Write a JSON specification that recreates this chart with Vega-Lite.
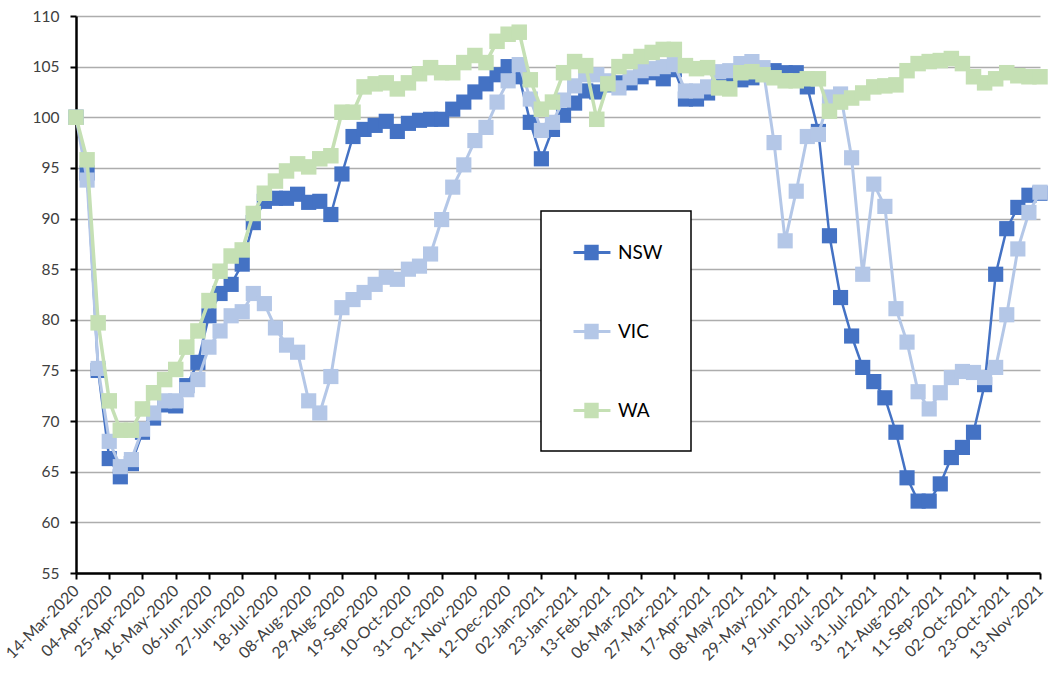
{
  "$schema": "https://vega.github.io/schema/vega-lite/v6.json",
  "width": 964,
  "height": 557,
  "autosize": {"type": "none"},
  "padding": {"left": 76, "top": 16, "right": 8, "bottom": 105},
  "background": "white",
  "config": {
    "view": {"stroke": null},
    "font": "Lato",
    "legend": {"strokeWidth": 1.5}
  },
  "data": {
    "values": [
      {"date": "2020-03-14", "NSW": 100, "VIC": 100, "WA": 100},
      {"date": "2020-03-21", "NSW": 94.5, "VIC": 93.8, "WA": 95.8},
      {"date": "2020-03-28", "NSW": 75.0, "VIC": 75.2, "WA": 79.7},
      {"date": "2020-04-04", "NSW": 66.3, "VIC": 68.0, "WA": 72.0},
      {"date": "2020-04-11", "NSW": 64.5, "VIC": 65.5, "WA": 69.1},
      {"date": "2020-04-18", "NSW": 65.8, "VIC": 66.2, "WA": 69.1},
      {"date": "2020-04-25", "NSW": 68.9, "VIC": 69.2, "WA": 71.2},
      {"date": "2020-05-02", "NSW": 70.3, "VIC": 70.8, "WA": 72.8},
      {"date": "2020-05-09", "NSW": 71.6, "VIC": 72.0, "WA": 74.1},
      {"date": "2020-05-16", "NSW": 71.5, "VIC": 72.0, "WA": 75.1},
      {"date": "2020-05-23", "NSW": 73.5, "VIC": 73.1, "WA": 77.3},
      {"date": "2020-05-30", "NSW": 75.8, "VIC": 74.1, "WA": 78.9},
      {"date": "2020-06-06", "NSW": 80.4, "VIC": 77.3, "WA": 81.9},
      {"date": "2020-06-13", "NSW": 82.6, "VIC": 78.9, "WA": 84.8},
      {"date": "2020-06-20", "NSW": 83.5, "VIC": 80.4, "WA": 86.3},
      {"date": "2020-06-27", "NSW": 85.5, "VIC": 80.8, "WA": 86.9},
      {"date": "2020-07-04", "NSW": 89.6, "VIC": 82.6, "WA": 90.5},
      {"date": "2020-07-11", "NSW": 91.7, "VIC": 81.6, "WA": 92.5},
      {"date": "2020-07-18", "NSW": 92.0, "VIC": 79.2, "WA": 93.7},
      {"date": "2020-07-25", "NSW": 92.0, "VIC": 77.5, "WA": 94.7},
      {"date": "2020-08-01", "NSW": 92.4, "VIC": 76.8, "WA": 95.4},
      {"date": "2020-08-08", "NSW": 91.6, "VIC": 72.0, "WA": 95.1},
      {"date": "2020-08-15", "NSW": 91.7, "VIC": 70.8, "WA": 95.9},
      {"date": "2020-08-22", "NSW": 90.4, "VIC": 74.4, "WA": 96.2},
      {"date": "2020-08-29", "NSW": 94.4, "VIC": 81.2, "WA": 100.5},
      {"date": "2020-09-05", "NSW": 98.1, "VIC": 82.0, "WA": 100.5},
      {"date": "2020-09-12", "NSW": 98.8, "VIC": 82.7, "WA": 103.0},
      {"date": "2020-09-19", "NSW": 99.2, "VIC": 83.5, "WA": 103.3},
      {"date": "2020-09-26", "NSW": 99.6, "VIC": 84.2, "WA": 103.4},
      {"date": "2020-10-03", "NSW": 98.6, "VIC": 84.0, "WA": 102.8},
      {"date": "2020-10-10", "NSW": 99.4, "VIC": 85.0, "WA": 103.4},
      {"date": "2020-10-17", "NSW": 99.7, "VIC": 85.3, "WA": 104.3},
      {"date": "2020-10-24", "NSW": 99.8, "VIC": 86.5, "WA": 104.9},
      {"date": "2020-10-31", "NSW": 99.8, "VIC": 89.9, "WA": 104.4},
      {"date": "2020-11-07", "NSW": 100.8, "VIC": 93.1, "WA": 104.4},
      {"date": "2020-11-14", "NSW": 101.5, "VIC": 95.3, "WA": 105.4},
      {"date": "2020-11-21", "NSW": 102.5, "VIC": 97.7, "WA": 106.1},
      {"date": "2020-11-28", "NSW": 103.3, "VIC": 99.0, "WA": 105.4},
      {"date": "2020-12-05", "NSW": 104.2, "VIC": 101.5, "WA": 107.5},
      {"date": "2020-12-12", "NSW": 105.0, "VIC": 103.6, "WA": 108.2},
      {"date": "2020-12-19", "NSW": 104.0, "VIC": 105.2, "WA": 108.4},
      {"date": "2020-12-26", "NSW": 99.5, "VIC": 101.8, "WA": 103.7},
      {"date": "2021-01-02", "NSW": 95.9, "VIC": 98.7, "WA": 100.8},
      {"date": "2021-01-09", "NSW": 98.8, "VIC": 99.5, "WA": 101.5},
      {"date": "2021-01-16", "NSW": 100.2, "VIC": 101.7, "WA": 104.4},
      {"date": "2021-01-23", "NSW": 101.4, "VIC": 103.1, "WA": 105.5},
      {"date": "2021-01-30", "NSW": 102.6, "VIC": 104.2, "WA": 105.1},
      {"date": "2021-02-06", "NSW": 102.5, "VIC": 104.2, "WA": 99.8},
      {"date": "2021-02-13", "NSW": 103.2, "VIC": 103.6, "WA": 103.3},
      {"date": "2021-02-20", "NSW": 103.4, "VIC": 102.9, "WA": 105.0},
      {"date": "2021-02-27", "NSW": 103.4, "VIC": 103.9, "WA": 105.5},
      {"date": "2021-03-06", "NSW": 104.0, "VIC": 104.6, "WA": 106.0},
      {"date": "2021-03-13", "NSW": 104.4, "VIC": 104.8, "WA": 106.4},
      {"date": "2021-03-20", "NSW": 103.8, "VIC": 105.0, "WA": 106.7},
      {"date": "2021-03-27", "NSW": 104.7, "VIC": 105.2, "WA": 106.7},
      {"date": "2021-04-03", "NSW": 101.8, "VIC": 102.6, "WA": 105.1},
      {"date": "2021-04-10", "NSW": 101.8, "VIC": 102.6, "WA": 104.8},
      {"date": "2021-04-17", "NSW": 102.4, "VIC": 103.0, "WA": 104.9},
      {"date": "2021-04-24", "NSW": 104.2, "VIC": 104.5, "WA": 102.9},
      {"date": "2021-05-01", "NSW": 104.2, "VIC": 104.6, "WA": 102.8},
      {"date": "2021-05-08", "NSW": 103.7, "VIC": 105.3, "WA": 104.4},
      {"date": "2021-05-15", "NSW": 103.9, "VIC": 105.5, "WA": 104.5},
      {"date": "2021-05-22", "NSW": 104.3, "VIC": 104.9, "WA": 104.2},
      {"date": "2021-05-29", "NSW": 104.6, "VIC": 97.5, "WA": 103.9},
      {"date": "2021-06-05", "NSW": 104.4, "VIC": 87.8, "WA": 103.6},
      {"date": "2021-06-12", "NSW": 104.4, "VIC": 92.7, "WA": 103.6},
      {"date": "2021-06-19", "NSW": 103.0, "VIC": 98.1, "WA": 103.8},
      {"date": "2021-06-26", "NSW": 98.6, "VIC": 98.3, "WA": 103.8},
      {"date": "2021-07-03", "NSW": 88.3, "VIC": 102.0, "WA": 100.6},
      {"date": "2021-07-10", "NSW": 82.2, "VIC": 102.3, "WA": 101.5},
      {"date": "2021-07-17", "NSW": 78.4, "VIC": 96.0, "WA": 101.9},
      {"date": "2021-07-24", "NSW": 75.3, "VIC": 84.5, "WA": 102.4},
      {"date": "2021-07-31", "NSW": 73.9, "VIC": 93.4, "WA": 103.0},
      {"date": "2021-08-07", "NSW": 72.3, "VIC": 91.2, "WA": 103.1},
      {"date": "2021-08-14", "NSW": 68.9, "VIC": 81.1, "WA": 103.2},
      {"date": "2021-08-21", "NSW": 64.4, "VIC": 77.8, "WA": 104.6},
      {"date": "2021-08-28", "NSW": 62.1, "VIC": 72.9, "WA": 105.3},
      {"date": "2021-09-04", "NSW": 62.1, "VIC": 71.2, "WA": 105.5},
      {"date": "2021-09-11", "NSW": 63.8, "VIC": 72.8, "WA": 105.6},
      {"date": "2021-09-18", "NSW": 66.4, "VIC": 74.3, "WA": 105.8},
      {"date": "2021-09-25", "NSW": 67.4, "VIC": 74.9, "WA": 105.3},
      {"date": "2021-10-02", "NSW": 68.9, "VIC": 74.8, "WA": 104.0},
      {"date": "2021-10-09", "NSW": 73.6, "VIC": 74.3, "WA": 103.4},
      {"date": "2021-10-16", "NSW": 84.5, "VIC": 75.3, "WA": 103.8},
      {"date": "2021-10-23", "NSW": 89.0, "VIC": 80.5, "WA": 104.4},
      {"date": "2021-10-30", "NSW": 91.1, "VIC": 87.0, "WA": 104.1},
      {"date": "2021-11-06", "NSW": 92.3, "VIC": 90.6, "WA": 104.0},
      {"date": "2021-11-13", "NSW": 92.5, "VIC": 92.6, "WA": 104.0}
    ]
  },
  "transform": [{"fold": ["NSW", "VIC", "WA"], "as": ["state", "value"]}],
  "encoding": {
    "x": {
      "field": "date",
      "type": "temporal",
      "scale": {
        "type": "utc",
        "nice": false,
        "domain": [
          {"year": 2020, "month": 3, "date": 14, "utc": true},
          {"year": 2021, "month": 11, "date": 13, "utc": true}
        ]
      },
      "axis": {
        "title": null,
        "grid": false,
        "format": "%d-%b-%Y",
        "labelAngle": -45,
        "labelAlign": "right",
        "labelBaseline": "middle",
        "labelFlush": false,
        "labelOverlap": false,
        "labelFontSize": 16,
        "labelFont": "Lato",
        "labelColor": "#404040",
        "labelPadding": 9,
        "tickSize": 6,
        "tickColor": "black",
        "tickWidth": 2,
        "domainColor": "black",
        "domainWidth": 2.5,
        "values": [
          {"year": 2020, "month": 3, "date": 14, "utc": true},
          {"year": 2020, "month": 4, "date": 4, "utc": true},
          {"year": 2020, "month": 4, "date": 25, "utc": true},
          {"year": 2020, "month": 5, "date": 16, "utc": true},
          {"year": 2020, "month": 6, "date": 6, "utc": true},
          {"year": 2020, "month": 6, "date": 27, "utc": true},
          {"year": 2020, "month": 7, "date": 18, "utc": true},
          {"year": 2020, "month": 8, "date": 8, "utc": true},
          {"year": 2020, "month": 8, "date": 29, "utc": true},
          {"year": 2020, "month": 9, "date": 19, "utc": true},
          {"year": 2020, "month": 10, "date": 10, "utc": true},
          {"year": 2020, "month": 10, "date": 31, "utc": true},
          {"year": 2020, "month": 11, "date": 21, "utc": true},
          {"year": 2020, "month": 12, "date": 12, "utc": true},
          {"year": 2021, "month": 1, "date": 2, "utc": true},
          {"year": 2021, "month": 1, "date": 23, "utc": true},
          {"year": 2021, "month": 2, "date": 13, "utc": true},
          {"year": 2021, "month": 3, "date": 6, "utc": true},
          {"year": 2021, "month": 3, "date": 27, "utc": true},
          {"year": 2021, "month": 4, "date": 17, "utc": true},
          {"year": 2021, "month": 5, "date": 8, "utc": true},
          {"year": 2021, "month": 5, "date": 29, "utc": true},
          {"year": 2021, "month": 6, "date": 19, "utc": true},
          {"year": 2021, "month": 7, "date": 10, "utc": true},
          {"year": 2021, "month": 7, "date": 31, "utc": true},
          {"year": 2021, "month": 8, "date": 21, "utc": true},
          {"year": 2021, "month": 9, "date": 11, "utc": true},
          {"year": 2021, "month": 10, "date": 2, "utc": true},
          {"year": 2021, "month": 10, "date": 23, "utc": true},
          {"year": 2021, "month": 11, "date": 13, "utc": true}
        ]
      }
    },
    "y": {
      "field": "value",
      "type": "quantitative",
      "scale": {"domain": [55, 110], "nice": false, "zero": false},
      "axis": {
        "title": null,
        "values": [55, 60, 65, 70, 75, 80, 85, 90, 95, 100, 105, 110],
        "grid": true,
        "gridColor": "#ADADAD",
        "gridWidth": 1.3,
        "domainColor": "black",
        "domainWidth": 2.5,
        "tickColor": "black",
        "tickWidth": 2,
        "tickSize": 6,
        "labelFontSize": 15.5,
        "labelFont": "Lato",
        "labelColor": "#404040",
        "labelPadding": 11
      }
    },
    "color": {
      "field": "state",
      "type": "nominal",
      "scale": {"domain": ["NSW", "VIC", "WA"], "range": ["#4472C4", "#B4C7E7", "#C5E0B4"]},
      "legend": {
        "title": null,
        "orient": "none",
        "legendX": 465,
        "legendY": 195,
        "direction": "vertical",
        "symbolType": "M-0.75,0H2.33M0.15,-0.525H1.35M0.15,-0.35H1.35M0.15,-0.175H1.35M0.15,0H1.35M0.15,0.175H1.35M0.15,0.35H1.35M0.15,0.525H1.35",
        "symbolSize": 576,
        "symbolStrokeWidth": 3,
        "labelFontSize": 19,
        "labelFont": "Lato",
        "labelColor": "#000000",
        "labelOffset": 22,
        "padding": 28,
        "rowPadding": 53,
        "strokeColor": "black",
        "fillColor": "white"
      }
    }
  },
  "layer": [
    {
      "transform": [{"filter": "datum.state === 'NSW'"}],
      "mark": {"type": "line", "strokeWidth": 2.5, "point": {"shape": "square", "size": 230, "filled": true, "opacity": 1}}
    },
    {
      "transform": [{"filter": "datum.state === 'VIC'"}],
      "mark": {"type": "line", "strokeWidth": 3, "point": {"shape": "square", "size": 230, "filled": true, "opacity": 1}}
    },
    {
      "transform": [{"filter": "datum.state === 'WA'"}],
      "mark": {"type": "line", "strokeWidth": 3.5, "point": {"shape": "square", "size": 240, "filled": true, "opacity": 1}}
    }
  ]
}
